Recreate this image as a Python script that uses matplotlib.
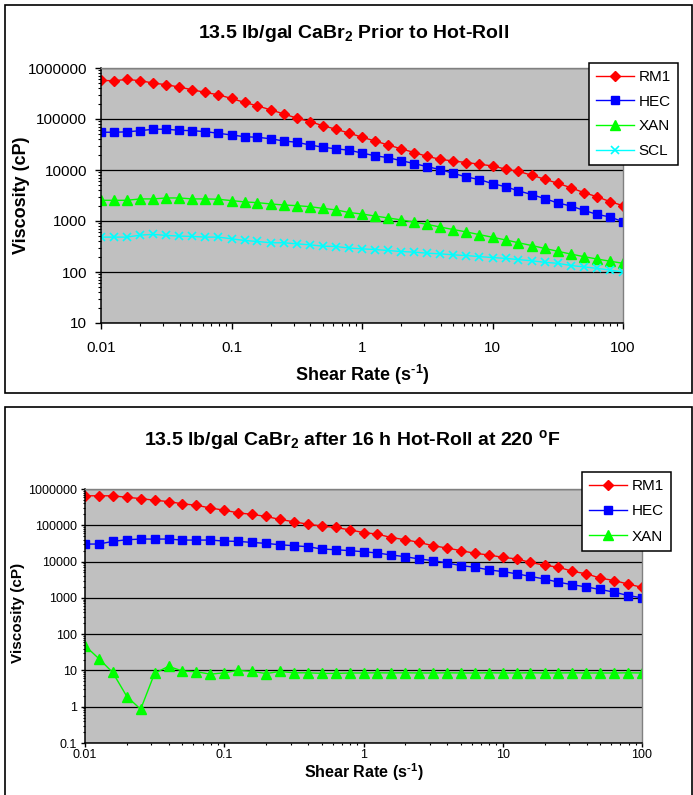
import matplotlib
matplotlib.use("Agg")
import matplotlib.pyplot as plt
from matplotlib.patches import Rectangle
from matplotlib.ticker import FixedLocator, FixedFormatter, LogLocator, NullFormatter

plt.rcParams["font.family"] = ["Liberation Sans", "DejaVu Sans"]
plt.rcParams["mathtext.default"] = "regular"

W, H = 693, 795

shear_rate = [0.01, 0.0126, 0.0158, 0.02, 0.0251, 0.0316, 0.0398, 0.0501, 0.0631, 0.0794,
              0.1, 0.126, 0.158, 0.2, 0.251, 0.316, 0.398, 0.501, 0.631, 0.794,
              1, 1.26, 1.58, 2.0, 2.51, 3.16, 3.98, 5.01, 6.31, 7.94,
              10, 12.6, 15.8, 20, 25.1, 31.6, 39.8, 50.1, 63.1, 79.4, 100]

# prior to hot-roll
rm1_prior = [571e3, 563e3, 598e3, 563e3, 507e3, 470e3, 423e3, 374e3, 332e3, 298e3,
             253e3, 211e3, 181e3, 151e3, 126e3, 104e3, 89e3, 74e3, 63e3, 53e3,
             44e3, 37e3, 31e3, 26e3, 22e3, 18.5e3, 16.2e3, 15e3, 14e3, 13e3,
             12e3, 10.4e3, 9.4e3, 7.9e3, 6.6e3, 5.5e3, 4.5e3, 3.6e3, 3.0e3, 2.4e3, 2.0e3]
hec_prior = [55e3, 55e3, 56e3, 59e3, 63e3, 63e3, 60e3, 59e3, 56.5e3, 52.5e3,
             48.6e3, 45e3, 43.8e3, 41e3, 37e3, 35e3, 31e3, 28e3, 26e3, 24.5e3,
             21.5e3, 19e3, 17.5e3, 15.2e3, 13.4e3, 11.6e3, 10.2e3, 8.6e3, 7.3e3, 6.5e3,
             5.4e3, 4.7e3, 3.9e3, 3.3e3, 2.75e3, 2.26e3, 1.97e3, 1.62e3, 1.35e3, 1.2e3, 0.97e3]
xan_prior = [2550, 2540, 2550, 2710, 2710, 2830, 2830, 2710, 2710, 2670,
             2510, 2370, 2290, 2160, 2060, 2000, 1910, 1770, 1650, 1470,
             1370, 1250, 1150, 1050, 950, 860, 760, 680, 610, 540,
             480, 425, 375, 330, 290, 255, 225, 200, 180, 163, 148]
scl_prior = [483, 483, 483, 529, 546, 521, 506, 498, 483, 483,
             448, 415, 397, 374, 374, 357, 341, 321, 316, 295,
             284, 276, 264, 252, 245, 234, 227, 217, 210, 200,
             192, 185, 175, 166, 155, 148, 134, 126, 118, 109, 100]

# after 16 h hot-roll
rm1_after = [650e3, 650e3, 650e3, 590e3, 545e3, 490e3, 450e3, 390e3, 357e3, 300e3,
             260e3, 220e3, 200e3, 175e3, 145e3, 125e3, 107e3, 95e3, 87e3, 75e3,
             63e3, 57e3, 46e3, 40e3, 33.7e3, 27.3e3, 23.6e3, 20e3, 16.9e3, 15.2e3,
             13.1e3, 11.8e3, 9.5e3, 7.9e3, 7.0e3, 5.4e3, 4.6e3, 3.5e3, 3.0e3, 2.4e3, 1.95e3]
hec_after = [30.4e3, 30.4e3, 36e3, 40e3, 41.7e3, 41.7e3, 41.7e3, 39.1e3, 39.1e3, 39.1e3,
             36.7e3, 36e3, 33.7e3, 31.7e3, 29.1e3, 27.3e3, 25.7e3, 22.2e3, 21.2e3, 20e3,
             18.7e3, 17.2e3, 15.2e3, 13.6e3, 11.8e3, 10.6e3, 9.2e3, 7.7e3, 7.0e3, 5.9e3,
             5.3e3, 4.6e3, 3.9e3, 3.3e3, 2.7e3, 2.3e3, 2.0e3, 1.7e3, 1.44e3, 1.16e3, 1.0e3]
xan_after = [48, 21, 8.8, 1.9, 0.85, 8.3, 13, 9.6, 9.2, 7.9,
             8.6, 10, 9.4, 8.2, 9.4, 8.6, 8.6, 8.3, 8.3, 8.5,
             8.5, 8.6, 8.5, 8.6, 8.5, 8.5, 8.6, 8.5, 8.5, 8.6,
             8.5, 8.5, 8.6, 8.5, 8.5, 8.6, 8.5, 8.5, 8.5, 8.6, 8.5]

x_ticks = [0.01, 0.1, 1, 10, 100]
x_tick_labels = ["0.01", "0.1", "1", "10", "100"]
y_ticks_prior = [10, 100, 1000, 10000, 100000, 1000000]
y_tick_labels_prior = ["10", "100", "1000", "10000", "100000", "1000000"]
y_ticks_after = [0.1, 1, 10, 100, 1000, 10000, 100000, 1000000]
y_tick_labels_after = ["0.1", "1", "10", "100", "1000", "10000", "100000", "1000000"]

title_prior = "13.5 lb/gal CaBr$_2$ Prior to Hot-Roll"
title_after = "13.5 lb/gal CaBr$_2$ after 16 h Hot-Roll at 220 $^o$F"
x_label = "Shear Rate (s$^{\u2010}$$^{1}$)"
y_label = "Viscosity (cP)"

styles = {
    "RM1": dict(color="#FF0000", marker="D", ms=5.2),
    "HEC": dict(color="#0000FF", marker="s", ms=5.5),
    "XAN": dict(color="#00FF00", marker="^", ms=6.5),
    "SCL": dict(color="#00FFFF", marker="x", ms=6, mew=1.2),
}


def fx(px):
    return px / W


def fy(py):
    return 1 - py / H


def draw_panel(ax, data, yticks, ylabels, tick_size, pad_x, pad_y, tick_len):
    ax.set_facecolor("#C0C0C0")
    for name, values in data:
        ax.plot(shear_rate, values, lw=1.0, label=name, **styles[name])
    ax.set_xscale("log")
    ax.set_yscale("log")
    ax.set_xlim(x_ticks[0], x_ticks[-1])
    ax.set_ylim(yticks[0], yticks[-1])

    ax.xaxis.set_major_locator(FixedLocator(x_ticks))
    ax.xaxis.set_major_formatter(FixedFormatter(x_tick_labels))
    ax.yaxis.set_major_locator(FixedLocator(yticks))
    ax.yaxis.set_major_formatter(FixedFormatter(ylabels))
    ax.xaxis.set_minor_locator(LogLocator(base=10, subs=range(2, 10), numticks=20))
    ax.yaxis.set_minor_locator(LogLocator(base=10, subs=range(2, 10), numticks=20))
    ax.xaxis.set_minor_formatter(NullFormatter())
    ax.yaxis.set_minor_formatter(NullFormatter())

    ax.grid(True, which="major", axis="y", color="black", lw=0.9)
    ax.set_axisbelow(True)
    ax.tick_params(which="major", direction="out", length=tick_len, width=1, labelsize=tick_size)
    ax.tick_params(which="minor", direction="out", length=tick_len * 0.6, width=0.8)
    ax.tick_params(axis="x", which="major", pad=pad_x)
    ax.tick_params(axis="y", which="major", pad=pad_y)
    ax.tick_params(top=False, right=False, which="both")

    for side in ["left", "bottom"]:
        ax.spines[side].set_color("black")
        ax.spines[side].set_linewidth(1.1)
    for side in ["top", "right"]:
        ax.spines[side].set_color("#808080")
        ax.spines[side].set_linewidth(1)


fig = plt.figure(figsize=(W / 100, H / 100), dpi=100)
fig.patch.set_facecolor("white")

# panel frames
fig.add_artist(Rectangle((fx(5), fy(393)), fx(687), 388 / H, transform=fig.transFigure,
                         fill=False, ec="black", lw=1.2))
fig.add_artist(Rectangle((fx(5), -0.01), fx(687), fy(407) + 0.01, transform=fig.transFigure,
                         fill=False, ec="black", lw=1.2))

# top chart
ax1 = fig.add_axes([fx(101), fy(323), fx(623 - 101), (323 - 68) / H])
draw_panel(ax1,
           [("RM1", rm1_prior), ("HEC", hec_prior), ("XAN", xan_prior), ("SCL", scl_prior)],
           y_ticks_prior, y_tick_labels_prior, 11, 9, 6, 4)
fig.text(fx(354), fy(33), title_prior, ha="center", va="center", fontsize=14, fontweight="bold")
fig.text(fx(362), fy(375), x_label, ha="center", va="center", fontsize=13, fontweight="bold")
fig.text(fx(22), fy(195), y_label, ha="center", va="center", rotation=90,
         fontsize=13, fontweight="bold")
leg1 = ax1.legend(loc="upper left", bbox_to_anchor=(fx(589), fy(63)), bbox_transform=fig.transFigure,
                  borderaxespad=0, fontsize=11, frameon=True, fancybox=False, framealpha=1,
                  edgecolor="black", handlelength=2.5, handletextpad=0.3, labelspacing=0.7,
                  borderpad=0.45)
leg1.get_frame().set_linewidth(1.1)

# bottom chart
ax2 = fig.add_axes([fx(85), fy(743), fx(642 - 85), (743 - 489) / H])
draw_panel(ax2,
           [("RM1", rm1_after), ("HEC", hec_after), ("XAN", xan_after)],
           y_ticks_after, y_tick_labels_after, 9, 1, 3, 3)
fig.text(fx(352), fy(440), title_after, ha="center", va="center", fontsize=14, fontweight="bold")
fig.text(fx(364), fy(772), x_label, ha="center", va="center", fontsize=11.5, fontweight="bold")
fig.text(fx(18), fy(613), y_label, ha="center", va="center", rotation=90,
         fontsize=11, fontweight="bold")
leg2 = ax2.legend(loc="upper left", bbox_to_anchor=(fx(582), fy(472)), bbox_transform=fig.transFigure,
                  borderaxespad=0, fontsize=11, frameon=True, fancybox=False, framealpha=1,
                  edgecolor="black", handlelength=2.5, handletextpad=0.3, labelspacing=0.75,
                  borderpad=0.45)
leg2.get_frame().set_linewidth(1.1)

fig.savefig("out.png", dpi=100)
